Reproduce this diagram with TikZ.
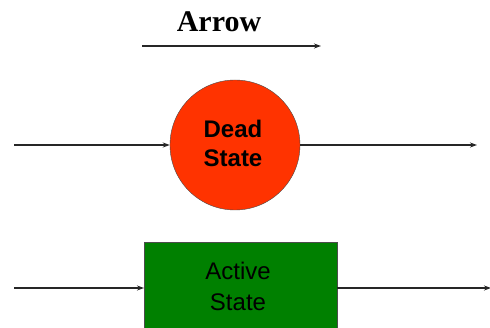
\documentclass[tikz,border=0pt]{standalone}
\usepackage{fontspec}
\setmainfont{Liberation Serif}
\setsansfont{Liberation Sans}
\usetikzlibrary{arrows.meta}
\definecolor{deadred}{HTML}{FF3300}
\definecolor{activegreen}{HTML}{008000}
\begin{document}
\begin{tikzpicture}[x=1pt,y=1pt,
  flow/.style={draw=black!85, line width=1.2pt, -{Stealth[length=7pt,width=5pt]}},
  statetext/.style={font=\sffamily\fontsize{24}{31}\selectfont, align=center, text=black}]
\useasboundingbox (0,0) rectangle (490,327);
\clip (0,0) rectangle (490,327);
% heading
\node[font=\rmfamily\bfseries\fontsize{30}{31}\selectfont] (title) at (219,305) {Arrow};
\coordinate (ta) at (142,281);
\coordinate (tb) at (321,281);
\draw[flow] (ta) -- (tb);
% dead state
\node[circle, draw=black!70, fill=deadred, minimum size=130pt, inner sep=0pt] (dead) at (235,182) {};
\node[statetext, font=\sffamily\bfseries\fontsize{24}{29}\selectfont] (deadtxt) at (233,184) {Dead\\State};
\coordinate (din) at (14,182);
\coordinate (dout) at (477,182);
\draw[flow] (din) -- (dead.west);
\draw[flow] (dead.east) -- (dout);
% active state
\node[rectangle, draw=black!70, fill=activegreen, minimum width=193pt, minimum height=110pt, anchor=north west, inner sep=0pt] (active) at (144,85) {};
\node[statetext] (activetxt) at (238,41) {Active\\State};
\coordinate (ain) at (14,39);
\coordinate (aout) at (491,39);
\draw[flow] (ain) -- (active.west |- ain);
\draw[flow] (active.east |- ain) -- (aout);
\end{tikzpicture}
\end{document}
